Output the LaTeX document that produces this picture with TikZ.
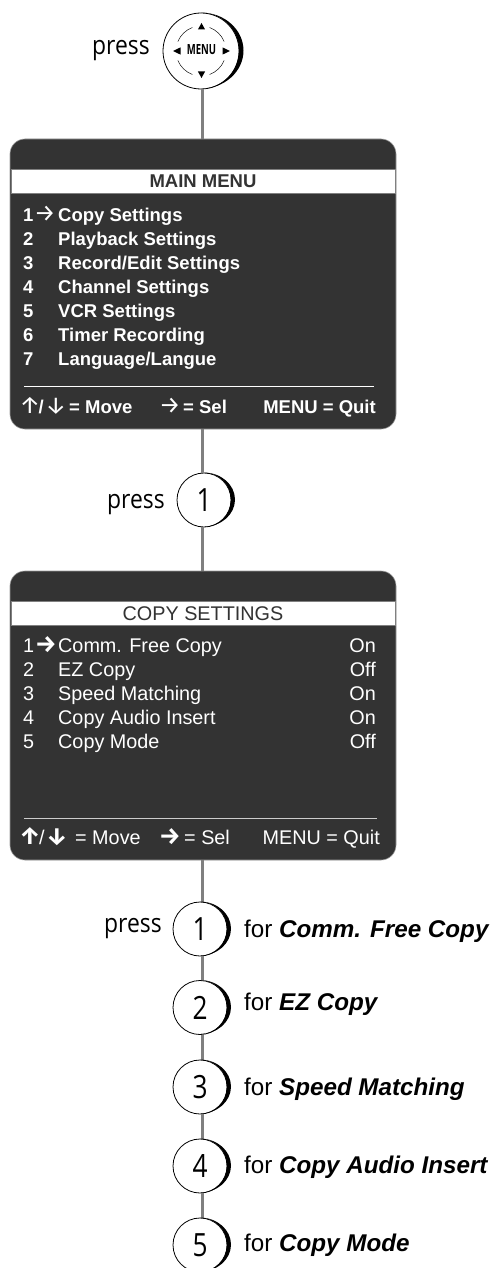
\documentclass[tikz,border=0pt]{standalone}
\usepackage{fontspec}
\setmainfont{Liberation Sans}
\newfontfamily\armfont{Fira Sans}
\newfontfamily\human[FakeStretch=0.88]{Open Sans}
\newfontfamily\digit[FakeStretch=0.82]{Open Sans}
\newfontfamily\cond[FakeStretch=0.68]{Open Sans}
\definecolor{panel}{HTML}{333333}
\definecolor{wire}{HTML}{808080}
\newcommand{\crescent}[3]{% node, radius, bulge
  \fill[black] (#1.north) arc[start angle=-90,end angle=90,x radius=#2+#3,y radius=#2]
     arc[start angle=90,end angle=-90,x radius=#2,y radius=#2] -- cycle;}
\newcommand{\crossarc}[2]{\draw[line width=.45] (mb.center) ++(#1:25) arc[start angle=#1,end angle=#2,radius=25];}
\tikzset{
  x=1pt,y=-1pt,
  wire/.style={draw=wire,line width=3},
  btn/.style={circle,draw=black,line width=.8,fill=white,inner sep=0,minimum size=54,font=\digit\fontsize{32}{32}\selectfont},
  panelbox/.style={draw=gray!80,line width=.6,fill=panel,rounded corners=15,inner sep=0,minimum width=386,minimum height=290},
  band/.style={draw=gray,line width=.5,fill=white,inner sep=0,minimum width=384,minimum height=24},
  mb/.style={anchor=base west,text=white,inner sep=0,font=\bfseries\fontsize{18.5}{20}\selectfont},
  mbr/.style={mb,anchor=base east},
  tb/.style={anchor=base west,text=white,inner sep=0,font=\fontsize{19.8}{20}\selectfont},
  tbe/.style={tb,anchor=base east},
  arr/.style={anchor=base west,text=white,inner sep=0,font=\armfont\fontsize{24}{24}\selectfont},
  arrb/.style={arr,font=\armfont\bfseries\fontsize{24}{24}\selectfont},
  presslab/.style={anchor=base west,inner sep=0,font=\human\fontsize{26}{26}\selectfont},
  forlab/.style={anchor=base west,inner sep=0,font=\fontsize{24.2}{25}\selectfont},
  rule/.style={draw=white,line width=1},
}
\begin{document}
\begin{tikzpicture}
\useasboundingbox (0,0) rectangle (492,1268);
\fill[white] (0,0) rectangle (492,1268);
% nodes
\coordinate (w) at (202.5,0);
\node[btn,minimum size=76] (mb) at (201,51) {};
\node[btn] (n0) at (204,500) {\raisebox{-1pt}{1}};
\node[btn] (n1) at (200,929) {\raisebox{-1pt}{1}};
\node[btn] (n2) at (200,1007.5) {\raisebox{-1pt}{2}};
\node[btn] (n3) at (200,1087) {\raisebox{-1pt}{3}};
\node[btn] (n4) at (200,1166) {\raisebox{-1pt}{4}};
\node[btn] (n5) at (200,1245) {\raisebox{-1pt}{5}};
\node[panelbox] (p1) at (203,284) {};
\node[panelbox,minimum height=289] (p2) at (203,715.5) {};
\node[band] (s1) at (203,181) {};
\node[band] (s2) at (203,613) {};
% connectors
\draw[wire] (w |- mb.south) -- (w |- p1.north);
\draw[wire] (w |- p1.south) -- (w |- n0.north);
\draw[wire] (w |- n0.south) -- (w |- p2.north);
\draw[wire] (w |- p2.south) -- (w |- n1.north);
\draw[wire] (w |- n1.south) -- (w |- n2.north);
\draw[wire] (w |- n2.south) -- (w |- n3.north);
\draw[wire] (w |- n3.south) -- (w |- n4.north);
\draw[wire] (w |- n4.south) -- (w |- n5.north);
% crescents
\crescent{mb}{38}{4.5}
\crescent{n0}{27}{4}
\crescent{n1}{27}{4}
\crescent{n2}{27}{4}
\crescent{n3}{27}{4}
\crescent{n4}{27}{4}
\crescent{n5}{27}{4}
% menu button decoration
\crossarc{22}{70}\crossarc{110}{158}\crossarc{202}{250}\crossarc{290}{338}
\fill (mb.center) ++(.5,-28) -- ++(-3.6,6.5) -- ++(7.2,0) -- cycle;
\fill (mb.center) ++(.5,27) -- ++(-3.6,-6.5) -- ++(7.2,0) -- cycle;
\fill (mb.center) ++(-28,0) -- ++(7.5,-3.6) -- ++(0,7.2) -- cycle;
\fill (mb.center) ++(29,0) -- ++(-7.5,-3.6) -- ++(0,7.2) -- cycle;
\node[inner sep=0,font=\cond\bfseries\fontsize{14}{14}\selectfont] (menutxt) at (201.5,49.5) {MENU};
% press
\node[presslab] (pr0) at (92,55) {press};
\node[presslab] (pr1) at (107,508) {press};
\node[presslab] (pr2) at (104,932) {press};
% for labels
\node[forlab] (f1) at (244,937) {for \textbf{\textit{Comm. Free Copy}}};
\node[forlab] (f2) at (244,1010) {for \textbf{\textit{EZ Copy}}};
\node[forlab] (f3) at (244,1095) {for \textbf{\textit{Speed Matching}}};
\node[forlab] (f4) at (244,1173) {for \textbf{\textit{Copy Audio Insert}}};
\node[forlab] (f5) at (244,1251) {for \textbf{\textit{Copy Mode}}};
% panel 1
\node[anchor=base,inner sep=0,text=panel,font=\bfseries\fontsize{18.5}{20}\selectfont] (t1) at (203,188) {MAIN MENU};
\node[mb] (a1) at (23,222) {1};
\node[arr] (a1r) at (34,222) {→};
\node[mb] (a2) at (23,245) {2};
\node[mb] (a3) at (23,269) {3};
\node[mb] (a4) at (23,293) {4};
\node[mb] (a5) at (23,317) {5};
\node[mb] (a6) at (23,341) {6};
\node[mb] (a7) at (23,365) {7};
\node[mb] (b1) at (58,222) {Copy Settings};
\node[mb] (b2) at (58,245) {Playback Settings};
\node[mb] (b3) at (58,269) {Record/Edit Settings};
\node[mb] (b4) at (58,293) {Channel Settings};
\node[mb] (b5) at (58,317) {VCR Settings};
\node[mb] (b6) at (58,341) {Timer Recording};
\node[mb] (b7) at (58,365) {Language/Langue};
\coordinate (r1a) at (24,386);
\coordinate (r1b) at (374,386);
\draw[rule] (r1a) -- (r1b);
\node[arr] (c1) at (19,413) {↑};
\node[mb] (c2) at (38.5,413) {/};
\node[arr] (c3) at (45,413) {↓};
\node[mb] (c4) at (69,413) {= Move};
\node[arr] (c5) at (159,413) {→};
\node[mb] (c6) at (183,413) {= Sel};
\node[mbr] (c7) at (376,413) {MENU = Quit};
% panel 2
\node[anchor=base,inner sep=0,text=panel,font=\fontsize{19.8}{20}\selectfont] (t2) at (203,620) {COPY SETTINGS};
\node[tb] (d1) at (23,652) {1};
\node[arrb] (d1r) at (35,652) {→};
\node[tb] (d2) at (23,676) {2};
\node[tb] (d3) at (23,700) {3};
\node[tb] (d4) at (23,724) {4};
\node[tb] (d5) at (23,748) {5};
\node[tb] (e1) at (58,652) {Comm. Free Copy};
\node[tb] (e2) at (58,676) {EZ Copy};
\node[tb] (e3) at (58,700) {Speed Matching};
\node[tb] (e4) at (58,724) {Copy Audio Insert};
\node[tb] (e5) at (58,748) {Copy Mode};
\node[tbe] (g1) at (376,652) {On};
\node[tbe] (g2) at (376,676) {Off};
\node[tbe] (g3) at (376,700) {On};
\node[tbe] (g4) at (376,724) {On};
\node[tbe] (g5) at (376,748) {Off};
\coordinate (r2a) at (24,818);
\coordinate (r2b) at (377,818);
\draw[rule,draw=white!80!black] (r2a) -- (r2b);
\node[arrb] (h1) at (19,844) {↑};
\node[tb] (h2) at (39,844) {/};
\node[arrb] (h3) at (46,844) {↓};
\node[tb] (h4) at (75,844) {= Move};
\node[arrb] (h5) at (159,844) {→};
\node[tb] (h6) at (184,844) {= Sel};
\node[tbe] (h7) at (380,844) {MENU = Quit};
\end{tikzpicture}
\end{document}
